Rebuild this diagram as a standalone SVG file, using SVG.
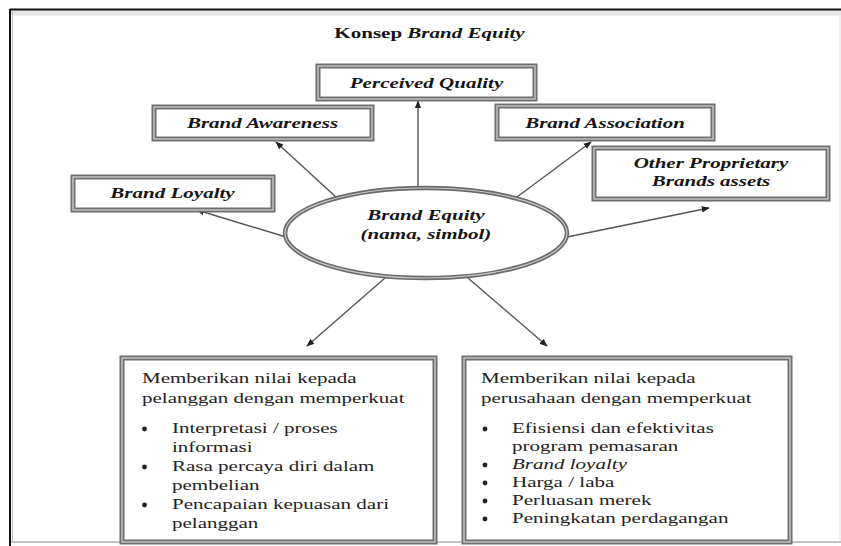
<svg xmlns="http://www.w3.org/2000/svg" width="841" height="546" viewBox="0 0 841 546">
<style>
  text { font-family: "Liberation Serif", "Times New Roman", serif; fill: #151515; }
  .lbl { font-size: 14.5px; font-weight: bold; font-style: italic; text-anchor: middle; }
  .body { font-size: 14.5px; fill: #222; }
  .box { fill: #fff; stroke: #6e6e6e; stroke-width: 5; }
  .boxin { fill: none; stroke: #cfcfcf; stroke-width: 1.3; }
  .big { fill: #fff; stroke: #6e6e6e; stroke-width: 5; }
  .conn { stroke: #555; stroke-width: 1.4; fill: none; marker-end: url(#ah); }
  .dot { fill: #222; }
</style>
<defs>
  <marker id="ah" viewBox="0 0 10 10" refX="9" refY="5" markerWidth="8" markerHeight="8" markerUnits="userSpaceOnUse" orient="auto">
    <path d="M0,1 L10,5 L0,9 Z" fill="#222"/>
  </marker>
</defs>
<rect x="0" y="0" width="841" height="546" fill="#fff"/>
<!-- frame -->
<g id="frame">
  <rect x="11" y="10.5" width="830" height="5" fill="#e6e6e6"/>
  <line x1="10" y1="9.5" x2="841" y2="9.5" stroke="#111" stroke-width="2"/>
  <line x1="10" y1="9" x2="10" y2="546" stroke="#111" stroke-width="2"/>
  <line x1="12.5" y1="11" x2="12.5" y2="541" stroke="#bbb" stroke-width="1"/>
  <line x1="840" y1="16" x2="840" y2="541" stroke="#e0e0e0" stroke-width="1"/>
  <line x1="11" y1="542" x2="841" y2="542" stroke="#c4c4c4" stroke-width="2"/>
</g>
<g id="title">
  <text transform="matrix(1.45 0 0 1 429.5 38)" x="0" y="0" style="font-size:14.5px;font-weight:bold;text-anchor:middle">Konsep <tspan font-style="italic">Brand Equity</tspan></text>
</g>
<g id="connectors">
  <line class="conn" x1="418" y1="188" x2="418" y2="101"/>
  <line class="conn" x1="337" y1="198" x2="276" y2="142"/>
  <line class="conn" x1="517" y1="197" x2="591" y2="142"/>
  <line class="conn" x1="286" y1="237" x2="197" y2="210"/>
  <line class="conn" x1="567" y1="237" x2="709" y2="208"/>
  <line class="conn" x1="385" y1="278" x2="307" y2="346"/>
  <line class="conn" x1="468" y1="278" x2="547" y2="346"/>
</g>
<g id="perceived-quality">
  <rect class="box" x="318" y="66" width="217" height="33"/>
  <rect class="boxin" x="318" y="66" width="217" height="33"/>
  <text class="lbl" transform="matrix(1.45 0 0 1 426.5 88)">Perceived Quality</text>
</g>
<g id="brand-awareness">
  <rect class="box" x="154" y="107" width="218" height="32"/>
  <rect class="boxin" x="154" y="107" width="218" height="32"/>
  <text class="lbl" transform="matrix(1.45 0 0 1 262.5 128)">Brand Awareness</text>
</g>
<g id="brand-association">
  <rect class="box" x="497" y="106" width="216" height="33"/>
  <rect class="boxin" x="497" y="106" width="216" height="33"/>
  <text class="lbl" transform="matrix(1.45 0 0 1 605 128)">Brand Association</text>
</g>
<g id="other-proprietary">
  <rect class="box" x="594" y="148" width="234" height="51"/>
  <rect class="boxin" x="594" y="148" width="234" height="51"/>
  <text class="lbl" transform="matrix(1.45 0 0 1 711 168)">Other Proprietary</text>
  <text class="lbl" transform="matrix(1.45 0 0 1 711 186)">Brands assets</text>
</g>
<g id="brand-loyalty">
  <rect class="box" x="73" y="177" width="200" height="33"/>
  <rect class="boxin" x="73" y="177" width="200" height="33"/>
  <text class="lbl" transform="matrix(1.45 0 0 1 172.5 198)">Brand Loyalty</text>
</g>
<g id="brand-equity">
  <ellipse cx="426" cy="233" rx="141" ry="45" fill="#fff" stroke="#6a6a6a" stroke-width="4.5"/>
  <ellipse cx="426" cy="233" rx="141" ry="45" fill="none" stroke="#c8c8c8" stroke-width="1.2"/>
  <text class="lbl" transform="matrix(1.45 0 0 1 426 220)">Brand Equity</text>
  <text class="lbl" transform="matrix(1.45 0 0 1 426 239)">(nama, simbol)</text>
</g>
<g id="customer-value">
  <rect class="big" x="122" y="358" width="313" height="184"/>
  <rect class="boxin" x="122" y="358" width="313" height="184"/>
  <text class="body" transform="matrix(1.45 0 0 1 142 383)">Memberikan nilai kepada</text>
  <text class="body" transform="matrix(1.45 0 0 1 142 403)">pelanggan dengan memperkuat</text>
  <circle class="dot" cx="144.5" cy="429" r="2.4"/>
  <text class="body" transform="matrix(1.45 0 0 1 172 433)">Interpretasi / proses</text>
  <text class="body" transform="matrix(1.45 0 0 1 172 452)">informasi</text>
  <circle class="dot" cx="144.5" cy="467" r="2.4"/>
  <text class="body" transform="matrix(1.45 0 0 1 172 471)">Rasa percaya diri dalam</text>
  <text class="body" transform="matrix(1.45 0 0 1 172 490)">pembelian</text>
  <circle class="dot" cx="144.5" cy="505" r="2.4"/>
  <text class="body" transform="matrix(1.45 0 0 1 172 509)">Pencapaian kepuasan dari</text>
  <text class="body" transform="matrix(1.45 0 0 1 172 528)">pelanggan</text>
</g>
<g id="company-value">
  <rect class="big" x="464" y="358" width="326" height="184"/>
  <rect class="boxin" x="464" y="358" width="326" height="184"/>
  <text class="body" transform="matrix(1.45 0 0 1 481 383)">Memberikan nilai kepada</text>
  <text class="body" transform="matrix(1.45 0 0 1 481 403)">perusahaan dengan memperkuat</text>
  <circle class="dot" cx="485" cy="429" r="2.4"/>
  <text class="body" transform="matrix(1.45 0 0 1 512 433)">Efisiensi dan efektivitas</text>
  <text class="body" transform="matrix(1.45 0 0 1 512 451)">program pemasaran</text>
  <circle class="dot" cx="485" cy="465" r="2.4"/>
  <text class="body" transform="matrix(1.45 0 0 1 512 469)" font-style="italic">Brand loyalty</text>
  <circle class="dot" cx="485" cy="483" r="2.4"/>
  <text class="body" transform="matrix(1.45 0 0 1 512 487)">Harga / laba</text>
  <circle class="dot" cx="485" cy="501" r="2.4"/>
  <text class="body" transform="matrix(1.45 0 0 1 512 505)">Perluasan merek</text>
  <circle class="dot" cx="485" cy="519" r="2.4"/>
  <text class="body" transform="matrix(1.45 0 0 1 512 523)">Peningkatan perdagangan</text>
</g>
</svg>
